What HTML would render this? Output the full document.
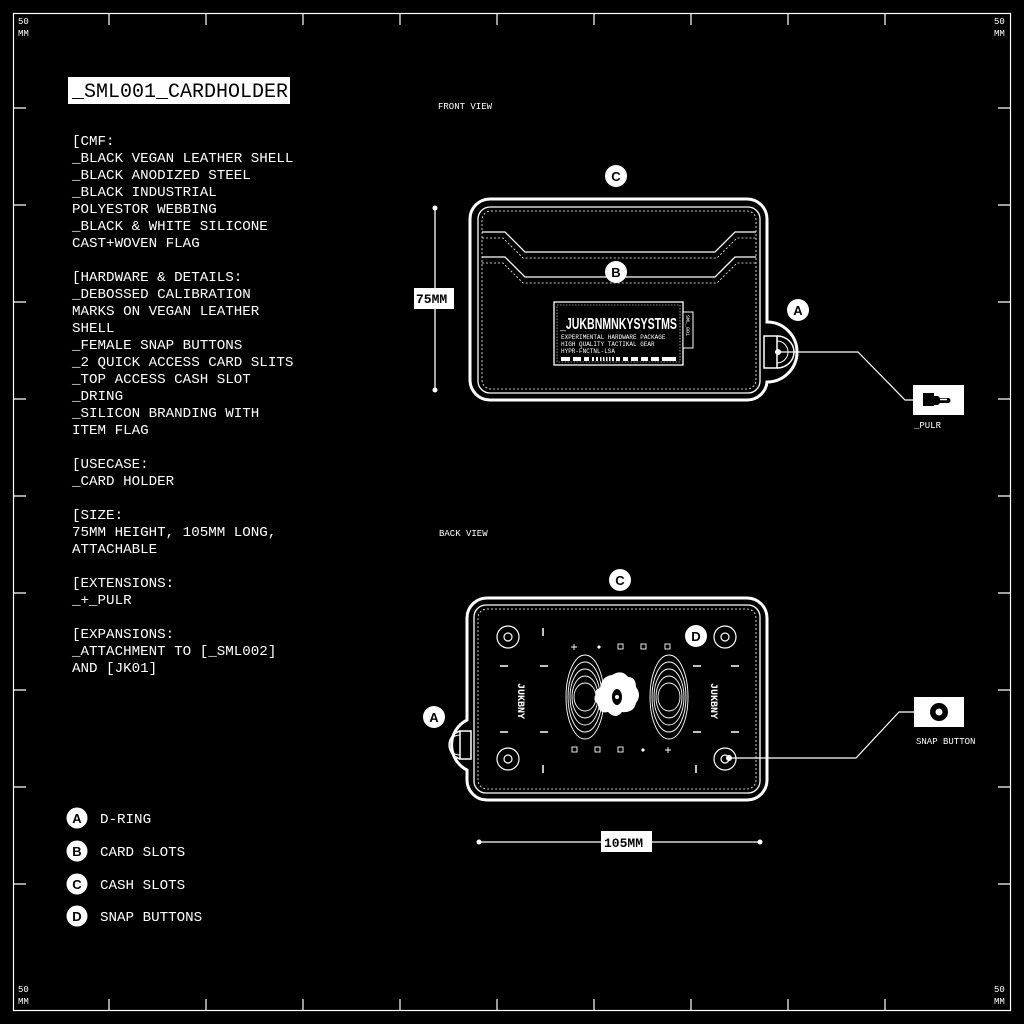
<!DOCTYPE html>
<html><head><meta charset="utf-8"><style>
html,body{margin:0;padding:0;background:#000;}
svg{display:block}
text{font-family:"Liberation Mono",monospace;fill:#fff}
text.b{font-family:"Liberation Sans",sans-serif;font-weight:bold;font-size:13px;fill:#000;text-anchor:middle}
</style></head><body>
<svg width="1024" height="1024" viewBox="0 0 1024 1024" xmlns="http://www.w3.org/2000/svg">
<rect width="1024" height="1024" fill="#000"/>
<rect x="13.5" y="13.5" width="997" height="997" fill="none" stroke="#fff" stroke-width="1.2"/>
<g stroke="#fff" stroke-width="1.2">
<path d="M109 13v12M206 13v12M303 13v12M400 13v12M497 13v12M594 13v12M691 13v12M788 13v12M885 13v12
M109 1011v-12M206 1011v-12M303 1011v-12M400 1011v-12M497 1011v-12M594 1011v-12M691 1011v-12M788 1011v-12M885 1011v-12
M13 108h13M13 205h13M13 302h13M13 399h13M13 496h13M13 593h13M13 690h13M13 787h13M13 884h13
M1011 108h-13M1011 205h-13M1011 302h-13M1011 399h-13M1011 496h-13M1011 593h-13M1011 690h-13M1011 787h-13M1011 884h-13"/>
</g>
<g font-size="9">
<text x="18" y="24">50</text><text x="18" y="36">MM</text>
<text x="994" y="24">50</text><text x="994" y="36">MM</text>
<text x="18" y="992">50</text><text x="18" y="1004">MM</text>
<text x="994" y="992">50</text><text x="994" y="1004">MM</text>
</g>
<rect x="68" y="77" width="222" height="27" fill="#fff"/>
<text x="72" y="97" font-size="20" style="fill:#000">_SML001_CARDHOLDER</text>
<g font-size="14.2">
<text x="72" y="145">[CMF:</text>
<text x="72" y="162">_BLACK VEGAN LEATHER SHELL</text>
<text x="72" y="179">_BLACK ANODIZED STEEL</text>
<text x="72" y="196">_BLACK INDUSTRIAL</text>
<text x="72" y="213">POLYESTOR WEBBING</text>
<text x="72" y="230">_BLACK &amp; WHITE SILICONE</text>
<text x="72" y="247">CAST+WOVEN FLAG</text>
<text x="72" y="281">[HARDWARE &amp; DETAILS:</text>
<text x="72" y="298">_DEBOSSED CALIBRATION</text>
<text x="72" y="315">MARKS ON VEGAN LEATHER</text>
<text x="72" y="332">SHELL</text>
<text x="72" y="349">_FEMALE SNAP BUTTONS</text>
<text x="72" y="366">_2 QUICK ACCESS CARD SLITS</text>
<text x="72" y="383">_TOP ACCESS CASH SLOT</text>
<text x="72" y="400">_DRING</text>
<text x="72" y="417">_SILICON BRANDING WITH</text>
<text x="72" y="434">ITEM FLAG</text>
<text x="72" y="468">[USECASE:</text>
<text x="72" y="485">_CARD HOLDER</text>
<text x="72" y="519">[SIZE:</text>
<text x="72" y="536">75MM HEIGHT, 105MM LONG,</text>
<text x="72" y="553">ATTACHABLE</text>
<text x="72" y="587">[EXTENSIONS:</text>
<text x="72" y="604">_+_PULR</text>
<text x="72" y="638">[EXPANSIONS:</text>
<text x="72" y="655">_ATTACHMENT TO [_SML002]</text>
<text x="72" y="672">AND [JK01]</text>
</g>
<g font-size="14.2">
<circle cx="77" cy="818" r="10.5" fill="#fff"/><text class="b" x="77" y="823">A</text><text x="100" y="823">D-RING</text>
<circle cx="77" cy="851" r="10.5" fill="#fff"/><text class="b" x="77" y="856">B</text><text x="100" y="856">CARD SLOTS</text>
<circle cx="77" cy="884" r="10.5" fill="#fff"/><text class="b" x="77" y="889">C</text><text x="100" y="889">CASH SLOTS</text>
<circle cx="77" cy="916" r="10.5" fill="#fff"/><text class="b" x="77" y="921">D</text><text x="100" y="921">SNAP BUTTONS</text>
</g>

<text x="438" y="109" font-size="9">FRONT VIEW</text>
<text x="439" y="536" font-size="9">BACK VIEW</text>

<g fill="none" stroke="#fff">
<path d="M490 199 H747 A20 20 0 0 1 767 219 V322 A30 30 0 0 1 767 382 A20 20 0 0 1 747 400 H490 A20 20 0 0 1 470 380 V219 A20 20 0 0 1 490 199Z" stroke-width="3"/>
<rect x="478" y="207" width="282" height="186" rx="12" stroke-width="1.3"/>
<rect x="482" y="211" width="274" height="178" rx="9" stroke-width="0.8" stroke-dasharray="2 2"/>
<path d="M482 232 H505 L525 252 H715 L735 232 H756" stroke-width="1.3"/>
<path d="M482 238 H503 L523 258 H717 L737 238 H756" stroke-width="0.8" stroke-dasharray="2 2"/>
<path d="M482 257 H505 L525 277 H715 L735 257 H756" stroke-width="1.3"/>
<path d="M482 263 H503 L523 283 H717 L737 263 H756" stroke-width="0.8" stroke-dasharray="2 2"/>
<rect x="764" y="336" width="13" height="32" stroke-width="1.5" fill="#000"/>
<path d="M777 336 A17 16 0 0 1 777 368" stroke-width="1.5"/>
<path d="M777 341 A11 11 0 0 1 777 363" stroke-width="1"/>
</g>
<rect x="554" y="302" width="129" height="63" fill="#000" stroke="#fff" stroke-width="1.3"/>
<rect x="557" y="305" width="123" height="57" fill="none" stroke="#fff" stroke-width="0.6" stroke-dasharray="1.5 1.5"/>
<rect x="683" y="312" width="10" height="36" fill="#000" stroke="#fff" stroke-width="1"/>
<text x="0" y="0" font-size="5" transform="translate(686 315) rotate(90)">SML_001</text>
<text x="560" y="329" font-size="16" font-weight="bold" textLength="117" lengthAdjust="spacingAndGlyphs" style="font-family:'Liberation Sans',sans-serif">_JUKBNMNKYSYSTMS</text>
<text x="561" y="339" font-size="6">EXPERIMENTAL HARDWARE PACKAGE</text>
<text x="561" y="346" font-size="6">HIGH QUALITY TACTIKAL GEAR</text>
<text x="561" y="353" font-size="6">HYPR-FNCTNL-LSA</text>
<g fill="#fff"><rect x="561" y="357" width="9" height="4"/><rect x="573" y="357" width="8" height="4"/><rect x="584" y="357" width="5" height="4"/><rect x="592" y="357" width="2" height="4"/><rect x="596" y="357" width="2" height="4"/><rect x="600" y="357" width="1.5" height="4"/><rect x="603" y="357" width="1.5" height="4"/><rect x="606" y="357" width="1.5" height="4"/><rect x="609" y="357" width="1.5" height="4"/><rect x="612" y="357" width="2" height="4"/><rect x="616" y="357" width="4" height="4"/><rect x="623" y="357" width="5" height="4"/><rect x="631" y="357" width="7" height="4"/><rect x="641" y="357" width="7" height="4"/><rect x="651" y="357" width="8" height="4"/><rect x="662" y="357" width="14" height="4"/></g>

<circle cx="616" cy="176" r="11" fill="#fff"/><text class="b" x="616" y="181">C</text>
<circle cx="616" cy="272" r="11" fill="#fff"/><text class="b" x="616" y="277">B</text>
<circle cx="798" cy="310" r="11" fill="#fff"/><text class="b" x="798" y="315">A</text>
<line x1="435" y1="208" x2="435" y2="390" stroke="#fff" stroke-width="1.3"/>
<circle cx="435" cy="208" r="2.5" fill="#fff"/><circle cx="435" cy="390" r="2.5" fill="#fff"/>
<rect x="414" y="288" width="40" height="21" fill="#fff"/>
<text x="416" y="303" font-size="13" font-weight="bold" style="fill:#000">75MM</text>
<circle cx="778" cy="352" r="3" fill="#fff"/>
<path d="M778 352 H858 L905 400 H914" fill="none" stroke="#fff" stroke-width="1.2"/>
<rect x="913" y="385" width="51" height="30" fill="#fff"/>
<rect x="923" y="393" width="11" height="13" fill="#000"/>
<path d="M934 396 h4 l2 2 h8 a2.5 2.5 0 0 1 0 5 h-8 l-2 2 h-4z" fill="#000"/>
<path d="M940 399.5 h7" stroke="#fff" stroke-width="1.5"/>
<text x="914" y="428" font-size="9">_PULR</text>

<g fill="none" stroke="#fff">
<path d="M487 598 H747 A20 20 0 0 1 767 618 V780 A20 20 0 0 1 747 800 H487 A20 20 0 0 1 467 780 V770 A28 28 0 0 1 467 720 V618 A20 20 0 0 1 487 598Z" stroke-width="3"/>
<rect x="474" y="605" width="286" height="188" rx="12" stroke-width="1.3"/>
<rect x="478" y="609" width="278" height="180" rx="9" stroke-width="0.8" stroke-dasharray="2 2"/>
<rect x="460" y="731" width="11" height="28" stroke-width="1.5" fill="#000"/>
<path d="M460 731 A17 15 0 0 0 460 759" stroke-width="1.5"/>
<path d="M460 735 A11 10 0 0 0 460 755" stroke-width="1"/>
<g stroke-width="1.2">
<circle cx="508" cy="637" r="11"/><circle cx="508" cy="637" r="4"/>
<circle cx="725" cy="637" r="11"/><circle cx="725" cy="637" r="4"/>
<circle cx="508" cy="759" r="11"/><circle cx="508" cy="759" r="4"/>
<circle cx="725" cy="759" r="11"/><circle cx="725" cy="759" r="4"/>
</g>
<g stroke-width="1.5">
<path d="M543 628v8M543 765v8M696 765v8"/>
<path d="M500 666h8M540 666h8M693 666h8M731 666h8M500 732h8M540 732h8M693 732h8M731 732h8"/>
</g>
<g stroke-width="0.9">
<ellipse cx="585" cy="697" rx="19" ry="42"/><ellipse cx="585" cy="697" rx="17" ry="35"/><ellipse cx="585" cy="697" rx="15" ry="28"/><ellipse cx="585" cy="697" rx="13" ry="21"/><ellipse cx="585" cy="697" rx="11" ry="14"/>
<ellipse cx="669" cy="697" rx="19" ry="42"/><ellipse cx="669" cy="697" rx="17" ry="35"/><ellipse cx="669" cy="697" rx="15" ry="28"/><ellipse cx="669" cy="697" rx="13" ry="21"/><ellipse cx="669" cy="697" rx="11" ry="14"/>
<path d="M571 647h6M574 644v6M665 750h6M668 747v6"/>
<rect x="572" y="747" width="5" height="5"/><rect x="665" y="644" width="5" height="5"/>
<rect x="595" y="747" width="5" height="5"/><rect x="641" y="644" width="5" height="5"/>
<rect x="618" y="747" width="5" height="5"/><rect x="618" y="644" width="5" height="5"/>
</g>
</g>
<g fill="#fff">
<path d="M597 647 l2 -2 l2 2 l-2 2z M641 750 l2 -2 l2 2 l-2 2z"/>
<path d="M612 675 q10 -6 16 2 q8 0 8 10 q6 8 0 16 q-2 10 -14 9 q-6 8 -14 0 q-10 2 -10 -8 q-6 -4 -2 -10 q-2 -4 4 -6 q2 -12 12 -13z"/>
</g>
<ellipse cx="617" cy="697" rx="5" ry="8" fill="#000"/>
<circle cx="617" cy="697" r="2" fill="#fff"/>
<text x="0" y="0" font-size="10" font-weight="bold" transform="translate(518 683) rotate(90)">JUKBNY</text>
<text x="0" y="0" font-size="10" font-weight="bold" transform="translate(711 683) rotate(90)">JUKBNY</text>
<circle cx="620" cy="580" r="11" fill="#fff"/><text class="b" x="620" y="585">C</text>
<circle cx="434" cy="717" r="11" fill="#fff"/><text class="b" x="434" y="722">A</text>
<circle cx="696" cy="636" r="11" fill="#fff"/><text class="b" x="696" y="641">D</text>
<circle cx="729" cy="758" r="3" fill="#fff"/>
<path d="M729 758 H856 L899 712 H914" fill="none" stroke="#fff" stroke-width="1.2"/>
<rect x="914" y="697" width="50" height="30" fill="#fff"/>
<circle cx="939" cy="712" r="9" fill="#000"/><circle cx="939" cy="712" r="3.5" fill="#fff"/>
<text x="916" y="744" font-size="9">SNAP BUTTON</text>
<line x1="479" y1="842" x2="760" y2="842" stroke="#fff" stroke-width="1.3"/>
<circle cx="479" cy="842" r="2.5" fill="#fff"/><circle cx="760" cy="842" r="2.5" fill="#fff"/>
<rect x="601" y="831" width="51" height="21" fill="#fff"/>
<text x="604" y="847" font-size="13" font-weight="bold" style="fill:#000">105MM</text>
</svg>
</body></html>
